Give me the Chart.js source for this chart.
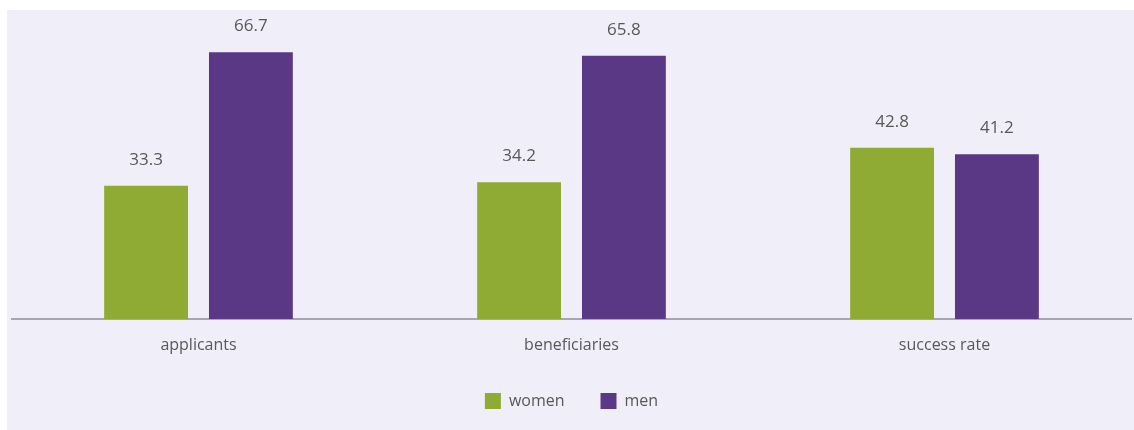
<!DOCTYPE html>
<html>
<head>
<meta charset="utf-8">
<script src="https://cdn.jsdelivr.net/npm/chart.js@4"></script>
<style>
  html, body { margin: 0; padding: 0; background: #fff; }
  #wrap { width: 1134px; height: 430px; position: relative; }
</style>
</head>
<body>
<div id="wrap"><canvas id="chart"></canvas></div>
<script>
const categories = ['applicants', 'beneficiaries', 'success rate'];
const women = [33.3, 34.2, 42.8];
const men = [66.7, 65.8, 41.2];

const textColor = '#585858';
const fontFamily = "'Open Sans', sans-serif";

// light panel behind the plot
const panelBg = {
  id: 'panelBg',
  beforeDraw(chart) {
    const ctx = chart.ctx;
    ctx.save();
    ctx.fillStyle = '#f0eef8';
    ctx.fillRect(7, 10, chart.width - 7, chart.height - 10);
    ctx.restore();
  }
};

// value printed above every bar
const barValues = {
  id: 'barValues',
  afterDatasetsDraw(chart) {
    const ctx = chart.ctx;
    ctx.save();
    ctx.font = "17px " + fontFamily;
    ctx.fillStyle = textColor;
    ctx.textAlign = 'center';
    ctx.textBaseline = 'alphabetic';
    chart.data.datasets.forEach((ds, i) => {
      chart.getDatasetMeta(i).data.forEach((bar, j) => {
        ctx.fillText(ds.data[j].toFixed(1), bar.x, bar.y - 21);
      });
    });
    ctx.restore();
  }
};

new Chart(document.getElementById('chart'), {
  type: 'bar',
  data: {
    labels: categories,
    datasets: [
      { label: 'women', data: women, backgroundColor: '#8fab33', borderWidth: 0 },
      { label: 'men', data: men, backgroundColor: '#5b3886', borderWidth: 0 }
    ]
  },
  options: {
    responsive: true,
    maintainAspectRatio: false,
    animation: false,
    categoryPercentage: 0.562,
    barPercentage: 0.8,
    layout: { padding: { top: 19, left: 12, right: 3, bottom: 11 } },
    scales: {
      x: {
        grid: { display: false },
        border: { display: true, color: '#a7a5ad', width: 2 },
        ticks: { color: textColor, font: { family: fontFamily, size: 16 }, padding: 9 },
        afterFit(scale) { scale.height = 38; }
      },
      y: { display: false, min: 0, max: 75 }
    },
    plugins: {
      legend: {
        position: 'bottom',
        labels: {
          color: textColor,
          font: { family: fontFamily, size: 16 },
          boxWidth: 16,
          boxHeight: 16,
          padding: 36
        }
      },
      tooltip: { enabled: false }
    }
  },
  plugins: [panelBg, barValues]
});
</script>
</body>
</html>
